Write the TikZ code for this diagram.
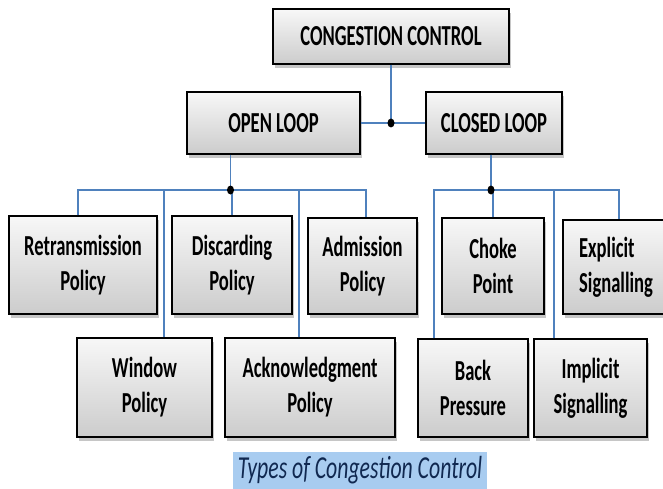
\documentclass[tikz,border=0pt]{standalone}
\usepackage{fontspec}
\setmainfont{Carlito}[FakeStretch=0.64]
\newfontfamily\capfont{Carlito}[FakeStretch=0.68]
\usepackage{tikz}
\usetikzlibrary{shadows}

\definecolor{linkblue}{RGB}{79,129,189}
\definecolor{capbg}{RGB}{168,204,240}
\definecolor{capfg}{RGB}{16,40,80}

\tikzset{
  box/.style={draw=black, line width=1.4pt, top color=gray!6, bottom color=gray!40,
    align=center, inner sep=0pt, font=\bfseries\fontsize{29}{35}\selectfont,
    drop shadow={shadow xshift=2pt, shadow yshift=-4pt, opacity=0.45}},
  link/.style={linkblue, line width=1.3pt}
}

\begin{document}
\begin{tikzpicture}[x=1pt, y=-1pt]
    \useasboundingbox (0,0) rectangle (663,489);
    % Κορυφή
    \node[box, minimum width=236, minimum height=55] (cc) at (391,36.5) {CONGESTION CONTROL};
    \node[box, minimum width=173, minimum height=62] (open) at (273.5,123) {OPEN LOOP};
    \node[box, minimum width=136, minimum height=62] (closed) at (494,123) {CLOSED LOOP};
    % Open loop
    \node[box, minimum width=148, minimum height=98] (ret) at (83,265) {Retransmission\\Policy};
    \node[box, minimum width=120, minimum height=98] (dis) at (232,265) {Discarding\\Policy};
    \node[box, minimum width=109, minimum height=96] (adm) at (362.5,266) {Admission\\Policy};
    \node[box, minimum width=135, minimum height=99] (win) at (144.5,387.5) {Window\\Policy};
    \node[box, minimum width=170, minimum height=99] (ack) at (310,387.5) {Acknowledgment\\Policy};
    % Closed loop
    \node[box, minimum width=102, minimum height=96] (choke) at (493,266) {Choke\\Point};
    \node[box, minimum width=106, minimum height=94, align=left] (expl) at (616,267) {Explicit\\Signalling};
    \node[box, minimum width=110, minimum height=98] (bp) at (473,388) {Back\\Pressure};
    \node[box, minimum width=113, minimum height=98] (imp) at (590.5,388) {Implicit\\Signalling};
    % Λεζάντα
    \node[fill=capbg, text=capfg, minimum width=254, minimum height=37, inner sep=0pt,
      font=\capfont\itshape\fontsize{32}{34}\selectfont] (cap) at (360,470.5) {Types of Congestion Control};

    \coordinate (tjunc) at (cc.south |- open.east);
    \coordinate (ojunc) at (230.5,190);
    \coordinate (cjunc) at (491,190);
    \coordinate (rettap) at ([xshift=-5pt]ret.north);
    \coordinate (admtap) at ([xshift=3.5pt]adm.north);
    \coordinate (wintap) at ([xshift=19.5pt]win.north);
    \coordinate (acktap) at ([xshift=-11pt]ack.north);
    \coordinate (bptap) at ([xshift=-39pt]bp.north);
    \coordinate (imptap) at ([xshift=-36.5pt]imp.north);
    \coordinate (expltap) at ([xshift=3pt]expl.north);

    \draw[link] (cc.south) -- (tjunc);
    \draw[link] (open.east) -- (closed.west);
    \draw[link] (open.south -| ojunc) -- (ojunc);
    \draw[link] (closed.south -| cjunc) -- (cjunc);
    \draw[link] (rettap) |- (ojunc) -| (admtap);
    \draw[link] (dis.north) -- (dis.north |- ojunc);
    \draw[link] (wintap) -- (wintap |- ojunc);
    \draw[link] (acktap) -- (acktap |- ojunc);
    \draw[link] (bptap) |- (cjunc) -| (expltap);
    \draw[link] (choke.north) -- (choke.north |- cjunc);
    \draw[link] (imptap) -- (imptap |- cjunc);

    \fill[black] (tjunc) ellipse (3.5 and 4.5); % κουκκίδα
    \fill[black] (ojunc) ellipse (3.5 and 4.5);
    \fill[black] (cjunc) ellipse (3.5 and 4.5);
\end{tikzpicture}
\end{document}
